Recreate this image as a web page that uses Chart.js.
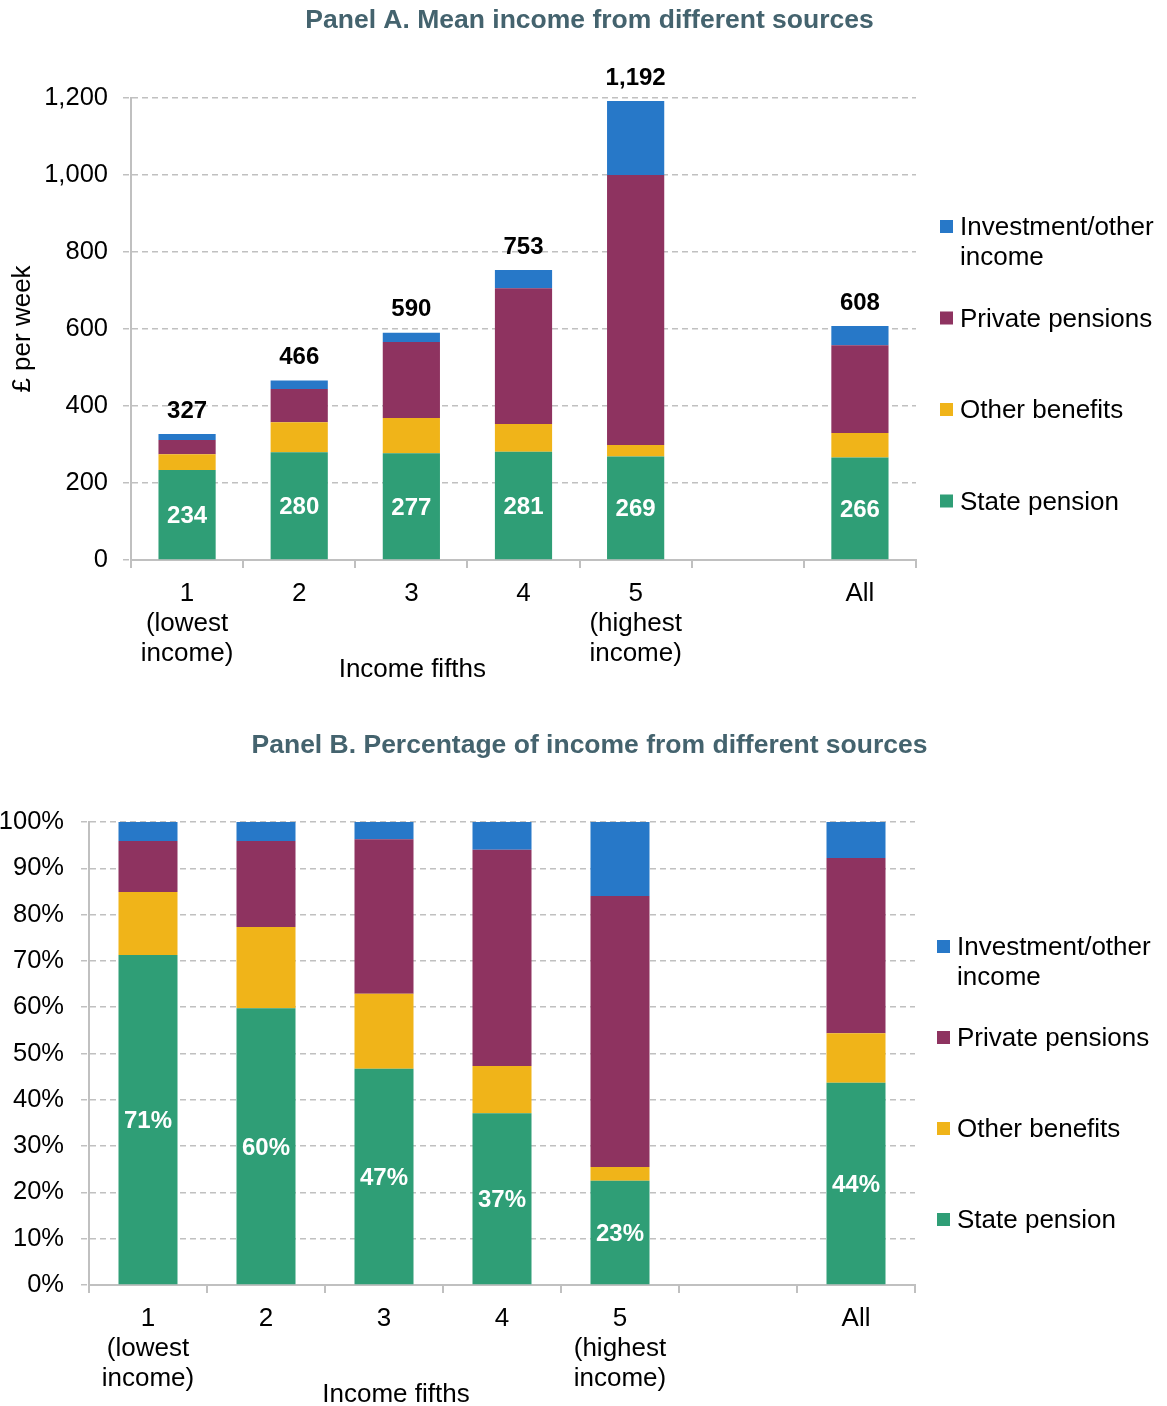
<!DOCTYPE html>
<html>
<head>
<meta charset="utf-8">
<script src="https://cdn.jsdelivr.net/npm/chart.js@4.4.0/dist/chart.umd.min.js"></script>
<style>
  body { margin: 0; background: #fff; }
  canvas { display: block; }
</style>
</head>
<body>
<canvas id="chartA" width="1167" height="700"></canvas>
<canvas id="chartB" width="1167" height="706"></canvas>
<script>
// Income fifths (empty slot between 5 and All)
const categories = [["1", "(lowest", "income)"], "2", "3", "4", ["5", "(highest", "income)"], "", "All"];
const seriesNames = ["State pension", "Other benefits", "Private pensions", ["Investment/other", "income"]];
const seriesColors = ["#2f9e76", "#f0b419", "#8e3360", "#2778c8"];

// Panel A: £ per week
const statePension = [234, 280, 277, 281, 269, null, 266];
const otherBenefits = [41, 78, 92, 72, 30, null, 64];
const privatePensions = [37, 86, 197, 353, 701, null, 228];
const investmentOther = [15, 22, 24, 47, 192, null, 50];
const totalIncome = [327, 466, 590, 753, 1192, null, 608];

// Panel B: percentage of income
const statePct = [71.3, 59.8, 46.7, 37.1, 22.5, null, 43.7];
const otherPct = [13.6, 17.5, 16.2, 10.2, 3.0, null, 10.7];
const privatePct = [11.0, 18.6, 33.4, 46.7, 58.5, null, 37.8];
const investPct = [4.1, 4.1, 3.7, 6.0, 16.0, null, 7.8];

const FONT = '"Liberation Sans", Arial, sans-serif';
const GRID = "#c0c0c0";
const TXT = 26;

// white labels inside the bottom segment, black totals above the stack
const barLabels = {
  id: "barLabels",
  afterDatasetsDraw(chart, args, opts) {
    const ctx = chart.ctx;
    ctx.save();
    ctx.font = "bold 24px " + FONT;
    ctx.textAlign = "center";
    ctx.textBaseline = "middle";
    const base = chart.getDatasetMeta(0);
    base.data.forEach((bar, i) => {
      const v = chart.data.datasets[0].data[i];
      if (v == null) return;
      ctx.fillStyle = "#fff";
      ctx.fillText(opts.format(v), bar.x, (bar.y + bar.base) / 2 + 2);
    });
    if (opts.totals) {
      const top = chart.getDatasetMeta(chart.data.datasets.length - 1);
      top.data.forEach((bar, i) => {
        const t = opts.totals[i];
        if (t == null) return;
        ctx.fillStyle = "#000";
        ctx.fillText(t.toLocaleString("en-GB"), bar.x, bar.y - 23);
      });
    }
    ctx.restore();
  }
};

// panel title, x axis title and the right-hand legend
const decorations = {
  id: "decorations",
  afterDraw(chart, args, opts) {
    const ctx = chart.ctx;
    const area = chart.chartArea;
    const x = chart.scales.x;
    ctx.save();
    ctx.textBaseline = "middle";

    ctx.font = "bold 26.5px " + FONT;
    ctx.fillStyle = "#44636e";
    ctx.textAlign = "center";
    ctx.fillText(opts.title, chart.width / 2 + 6, opts.titleY);

    ctx.font = TXT + "px " + FONT;
    ctx.fillStyle = "#000";
    const mid = (x.getPixelForValue(0) + x.getPixelForValue(4)) / 2 + opts.xTitleDx;
    ctx.fillText("Income fifths", mid, area.bottom + 110);

    ctx.textAlign = "left";
    const ds = chart.data.datasets;
    for (let k = 0; k < ds.length; k++) {
      const d = ds[ds.length - 1 - k];
      const y = area.top + opts.legendTop + k * opts.legendGap;
      ctx.fillStyle = d.backgroundColor;
      ctx.fillRect(area.right + opts.legendDx, y - 7, 13, 13);
      ctx.fillStyle = "#000";
      const lines = Array.isArray(d.label) ? d.label : [d.label];
      lines.forEach((ln, j) => ctx.fillText(ln, area.right + opts.legendDx + 20, y + 1 + j * 30));
    }
    ctx.restore();
  }
};

function makeDatasets(values, barPct) {
  return values.map((data, i) => ({
    label: seriesNames[i],
    data: data,
    backgroundColor: seriesColors[i],
    barPercentage: barPct,
    categoryPercentage: 1
  }));
}

function xAxis(height) {
  return {
    stacked: true,
    afterFit: (s) => { s.height = height; },
    grid: { drawOnChartArea: false, drawTicks: true, tickLength: 8, color: GRID, lineWidth: 2 },
    border: { display: true, color: GRID, width: 2 },
    ticks: { color: "#000", padding: 11, maxRotation: 0, autoSkip: false, font: { family: FONT, size: TXT, lineHeight: "30px" } }
  };
}

function yGrid() {
  return { color: GRID, lineWidth: 1.5, tickLength: 8, tickBorderDash: [6, 4] };
}

new Chart(document.getElementById("chartA"), {
  type: "bar",
  data: {
    labels: categories,
    datasets: makeDatasets([statePension, otherBenefits, privatePensions, investmentOther], 0.51)
  },
  plugins: [barLabels, decorations],
  options: {
    responsive: false,
    animation: false,
    layout: { padding: { top: 98, right: 251, left: 0, bottom: 0 } },
    plugins: {
      legend: { display: false },
      tooltip: { enabled: false },
      barLabels: { format: (v) => String(v), totals: totalIncome },
      decorations: { title: "Panel A. Mean income from different sources", titleY: 21, xTitleDx: 1, legendTop: 129, legendGap: 91.5, legendDx: 24 }
    },
    scales: {
      x: xAxis(140),
      y: {
        stacked: true,
        min: 0,
        max: 1200,
        afterFit: (s) => { s.width = 131; },
        grid: yGrid(),
        border: { display: true, color: GRID, width: 2, dash: [6, 4] },
        title: { display: true, text: "£ per week", color: "#000", padding: { top: 7 }, font: { family: FONT, size: TXT } },
        ticks: { stepSize: 200, color: "#000", padding: 15, font: { family: FONT, size: 25.5 }, callback: (v) => v.toLocaleString("en-GB") }
      }
    }
  }
});

new Chart(document.getElementById("chartB"), {
  type: "bar",
  data: {
    labels: categories,
    datasets: makeDatasets([statePct, otherPct, privatePct, investPct], 0.5)
  },
  plugins: [barLabels, decorations],
  options: {
    responsive: false,
    animation: false,
    layout: { padding: { top: 122, right: 252, left: 0, bottom: 0 } },
    plugins: {
      legend: { display: false },
      tooltip: { enabled: false },
      barLabels: { format: (v) => Math.round(v) + "%" },
      decorations: { title: "Panel B. Percentage of income from different sources", titleY: 46, xTitleDx: 12, legendTop: 125, legendGap: 91, legendDx: 22 }
    },
    scales: {
      x: xAxis(121),
      y: {
        stacked: true,
        min: 0,
        max: 100,
        afterFit: (s) => { s.width = 89; },
        grid: yGrid(),
        border: { display: true, color: GRID, width: 2, dash: [6, 4] },
        ticks: { stepSize: 10, color: "#000", padding: 17, font: { family: FONT, size: 25.5 }, callback: (v) => v + "%" }
      }
    }
  }
});
</script>
</body>
</html>
